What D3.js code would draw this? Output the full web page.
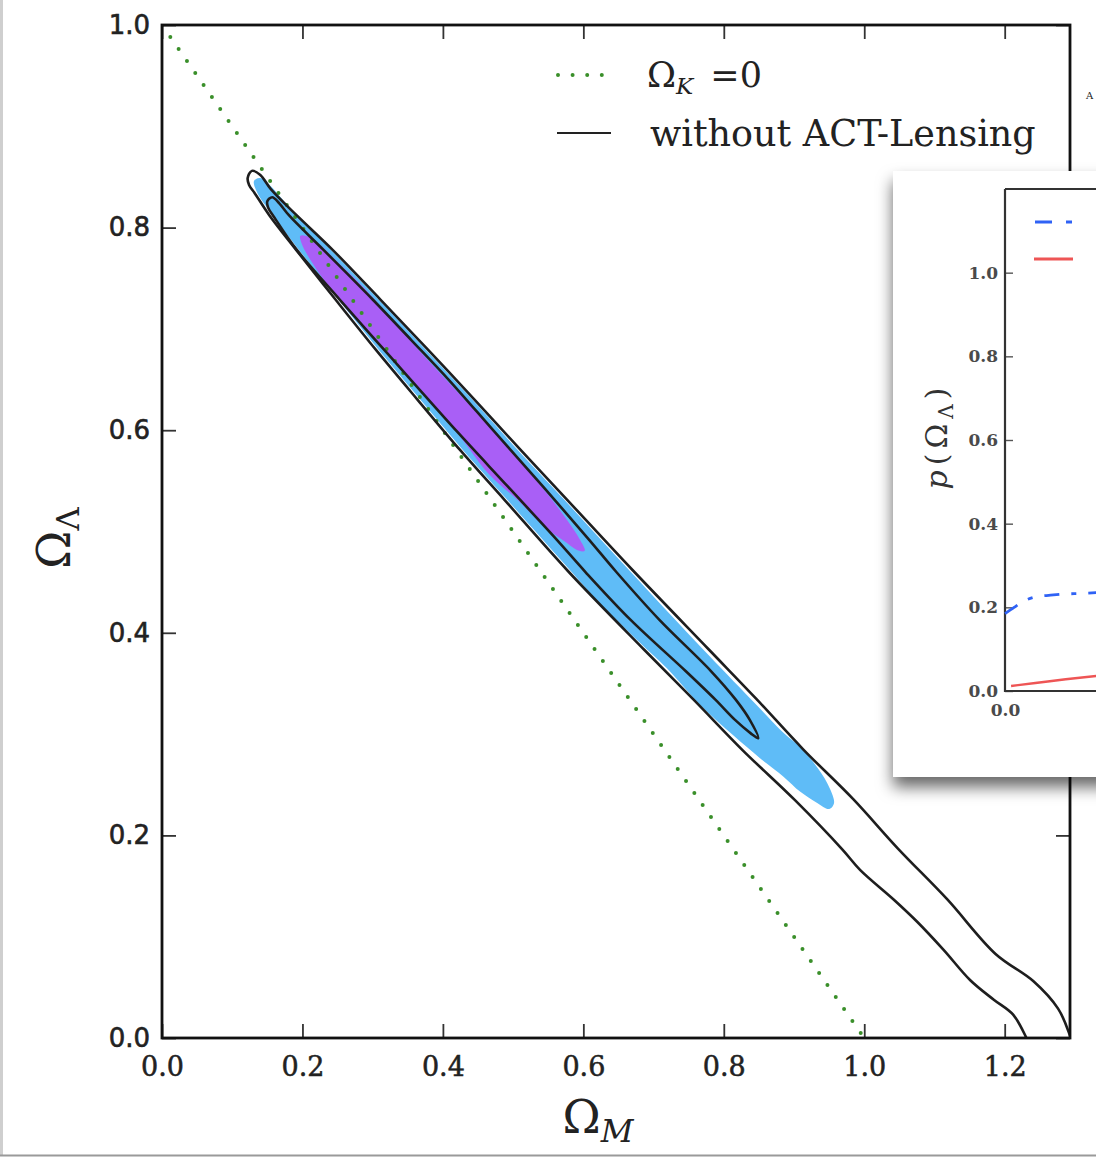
<!DOCTYPE html>
<html><head><meta charset="utf-8">
<script src="https://cdn.jsdelivr.net/npm/d3@7"></script>
<style>html,body{margin:0;padding:0;background:#fff;} svg{display:block}</style>
</head><body>
<svg id="c" width="1096" height="1158"></svg>
<script>
// ---------- data ----------
const xTicks = [0.0, 0.2, 0.4, 0.6, 0.8, 1.0, 1.2];
const yTicks = [0.0, 0.2, 0.4, 0.6, 0.8, 1.0];
const flatLine = [[0, 1], [1, 0]];            // Omega_K = 0

// 95% contour without ACT-Lensing (black, outer)
const outer95NoLens = [
  [0.122,0.849],[0.128,0.856],[0.140,0.852],[0.155,0.838],[0.192,0.812],[0.243,0.778],[0.311,0.729],
  [0.378,0.680],[0.444,0.631],[0.510,0.581],[0.576,0.532],[0.670,0.462],[0.778,0.384],
  [0.846,0.335],[0.913,0.285],[0.984,0.236],[1.048,0.187],[1.118,0.137],[1.187,0.083],
  [1.241,0.056],[1.276,0.029],[1.291,0.006],[1.301,-0.022],
  [1.244,-0.022],[1.231,0.000],[1.212,0.023],[1.184,0.038],[1.151,0.057],[1.113,0.087],
  [1.075,0.115],[1.043,0.136],[0.994,0.166],[0.969,0.186],[0.901,0.235],[0.827,0.284],
  [0.757,0.334],[0.687,0.383],[0.578,0.461],[0.488,0.531],[0.425,0.580],[0.364,0.630],
  [0.305,0.679],[0.247,0.729],[0.191,0.778],[0.153,0.812],[0.132,0.834],[0.124,0.842]
];
// 68% contour without ACT-Lensing (black, inner)
const inner68NoLens = [
  [0.150,0.826],[0.157,0.830],[0.167,0.824],[0.181,0.812],[0.230,0.778],[0.300,0.729],[0.355,0.689],
  [0.408,0.650],[0.474,0.598],[0.543,0.544],[0.608,0.492],[0.647,0.460],[0.708,0.413],
  [0.782,0.362],[0.817,0.334],[0.837,0.314],[0.849,0.296],
  [0.838,0.301],[0.816,0.314],[0.788,0.334],[0.746,0.362],[0.667,0.413],[0.603,0.460],
  [0.562,0.492],[0.493,0.544],[0.421,0.598],[0.354,0.650],[0.304,0.689],[0.253,0.729],
  [0.192,0.778],[0.160,0.810],[0.151,0.820]
];
// 95% with ACT-Lensing (blue fill)
const blue95Lens = [
  [0.131,0.846],[0.140,0.849],[0.188,0.815],[0.239,0.779],[0.307,0.730],[0.375,0.680],
  [0.441,0.631],[0.506,0.581],[0.572,0.532],[0.665,0.462],[0.770,0.384],[0.838,0.335],
  [0.887,0.300],[0.909,0.287],[0.930,0.270],[0.947,0.252],[0.957,0.232],
  [0.950,0.226],[0.933,0.232],[0.909,0.243],[0.885,0.258],[0.852,0.276],[0.813,0.299],
  [0.766,0.329],[0.719,0.365],[0.681,0.390],[0.622,0.430],[0.582,0.461],[0.492,0.531],
  [0.429,0.580],[0.368,0.630],[0.309,0.679],[0.251,0.729],[0.195,0.778],[0.158,0.812],
  [0.136,0.834]
];
// 68% with ACT-Lensing (purple fill)
const purple68Lens = [
  [0.197,0.792],[0.212,0.790],[0.256,0.762],[0.299,0.732],[0.349,0.692],[0.403,0.651],
  [0.463,0.606],[0.513,0.567],[0.549,0.537],[0.577,0.511],[0.595,0.492],[0.602,0.481],
  [0.594,0.481],[0.574,0.490],[0.544,0.505],[0.508,0.530],[0.465,0.557],[0.423,0.595],
  [0.356,0.650],[0.306,0.687],[0.254,0.727],[0.216,0.763],[0.199,0.784]
];
// inset
const insetYTicks = [0.0, 0.2, 0.4, 0.6, 0.8, 1.0];
const insetXTicks = [0.0];
const insetBlue = [[0.00,0.185],[0.03,0.200],[0.06,0.214],[0.10,0.225],[0.15,0.229],[0.20,0.232],[0.25,0.233],[0.30,0.235]];
const insetRed  = [[0.02,0.012],[0.10,0.019],[0.20,0.028],[0.30,0.036]];

// ---------- layout ----------
const svg = d3.select('#c');
const L = 162, R = 1070, T = 25, B = 1038;
const x = d3.scaleLinear().domain([0, 1.293]).range([L, R]);
const y = d3.scaleLinear().domain([0, 1]).range([B, T]);
const serif = "'DejaVu Serif', serif";
const sans = "'DejaVu Sans', sans-serif";

const defs = svg.append('defs');
defs.append('clipPath').attr('id','plotclip').append('rect')
  .attr('x', L).attr('y', T).attr('width', R - L).attr('height', B - T);
const f = defs.append('filter').attr('id','shadow').attr('x','-20%').attr('y','-20%').attr('width','140%').attr('height','140%');
f.append('feDropShadow').attr('dx',0).attr('dy',10).attr('stdDeviation',8).attr('flood-color','#000').attr('flood-opacity',0.6);

// screenshot borders
svg.append('line').attr('x1',1.5).attr('x2',1.5).attr('y1',0).attr('y2',1155).attr('stroke','#cfcfcf').attr('stroke-width',3);
svg.append('line').attr('x1',0).attr('x2',1096).attr('y1',1155.5).attr('y2',1155.5).attr('stroke','#9a9a9a').attr('stroke-width',2);

const plot = svg.append('g').attr('clip-path','url(#plotclip)');
const closed = d3.line().x(d => x(d[0])).y(d => y(d[1])).curve(d3.curveCatmullRomClosed.alpha(0.5));

plot.append('path').datum(blue95Lens).attr('d', closed).attr('fill','#5fbcf7').attr('stroke','none');
plot.append('path').datum(purple68Lens).attr('d', closed).attr('fill','#a95ff6').attr('stroke','none');

plot.append('path').datum(flatLine).attr('d', d3.line().x(d => x(d[0])).y(d => y(d[1])))
  .attr('fill','none').attr('stroke','#3a8f2a').attr('stroke-width',4)
  .attr('stroke-linecap','round').attr('stroke-dasharray','0 14.6');

plot.append('path').datum(outer95NoLens).attr('d', closed).attr('fill','none').attr('stroke','#1e1e1e').attr('stroke-width',2.6);
plot.append('path').datum(inner68NoLens).attr('d', closed).attr('fill','none').attr('stroke','#1e1e1e').attr('stroke-width',2.6);

// axes
const tk = 14;
const styleTicks = g => { g.select('.domain').remove(); g.selectAll('line').attr('stroke','#333').attr('stroke-width',1.8); };
const ax = svg.append('g');
ax.append('g').attr('transform',`translate(0,${B})`)
  .call(d3.axisBottom(x).tickValues(xTicks).tickSize(-tk).tickFormat(d3.format('.1f')).tickPadding(19))
  .call(styleTicks)
  .call(g => g.selectAll('text').attr('font-family',serif).attr('font-size',27).attr('fill','#222')
               .attr('stroke','#222').attr('stroke-width',0.5));
ax.append('g').attr('transform',`translate(0,${T})`)
  .call(d3.axisTop(x).tickValues(xTicks).tickSize(-tk).tickFormat(''))
  .call(styleTicks);
ax.append('g').attr('transform',`translate(${L},0)`)
  .call(d3.axisLeft(y).tickValues(yTicks).tickSize(-tk).tickFormat(d3.format('.1f')).tickPadding(12))
  .call(styleTicks)
  .call(g => g.selectAll('text').attr('font-family',sans).attr('font-size',26).attr('fill','#222')
               .attr('stroke','#222').attr('stroke-width',0.6));
ax.append('g').attr('transform',`translate(${R},0)`)
  .call(d3.axisRight(y).tickValues(yTicks).tickSize(-tk).tickFormat(''))
  .call(styleTicks);
svg.append('rect').attr('x',L).attr('y',T).attr('width',R-L).attr('height',B-T)
  .attr('fill','none').attr('stroke','#111').attr('stroke-width',2.8);

// axis labels
const xl = svg.append('text').attr('x', 598).attr('y', 1133).attr('text-anchor','middle').attr('font-family',serif).attr('fill','#222');
xl.append('tspan').attr('font-size',46).text('Ω');
xl.append('tspan').attr('font-size',32).attr('font-style','italic').attr('dy',9).text('M');
const yl = svg.append('text').attr('transform','translate(70,538) rotate(-90)').attr('text-anchor','middle').attr('font-family',serif).attr('fill','#222');
yl.append('tspan').attr('font-size',46).text('Ω');
yl.append('tspan').attr('font-size',32).attr('dy',9).text('Λ');

// legend
svg.append('line').attr('x1',558).attr('x2',605).attr('y1',75).attr('y2',75)
  .attr('stroke','#3a8f2a').attr('stroke-width',4).attr('stroke-linecap','round').attr('stroke-dasharray','0 14.6');
const lt1 = svg.append('text').attr('x',647).attr('y',87).attr('font-family',serif).attr('fill','#222');
lt1.append('tspan').attr('font-size',35).text('Ω');
lt1.append('tspan').attr('font-size',23).attr('font-style','italic').attr('dy',7).text('K');
lt1.append('tspan').attr('font-size',35).attr('dy',-7).attr('dx',6).text(' =0');
svg.append('line').attr('x1',557).attr('x2',611).attr('y1',133).attr('y2',133).attr('stroke','#222').attr('stroke-width',2);
svg.append('text').attr('x',650).attr('y',146).attr('font-family',serif).attr('font-size',36.5).attr('fill','#222').text('without ACT-Lensing');
svg.append('text').attr('x',1086).attr('y',99).attr('font-family',serif).attr('font-size',10).attr('fill','#222').text('A');

// ---------- inset ----------
const ins = svg.append('g');
ins.append('rect').attr('x',893).attr('y',171).attr('width',260).attr('height',606)
  .attr('fill','#fff').attr('filter','url(#shadow)');
const iL = 1005, iT = 189, iB = 691;
const ix = d3.scaleLinear().domain([0, 1.3]).range([iL, iL + 395]);
const iy = d3.scaleLinear().domain([0, 1.2]).range([iB, iT]);
ins.append('g').attr('transform',`translate(${iL},0)`)
  .call(d3.axisLeft(iy).tickValues(insetYTicks).tickSize(-8).tickFormat(d3.format('.1f')).tickPadding(7))
  .call(g => { g.select('.domain').remove(); g.selectAll('line').attr('stroke','#555').attr('stroke-width',1.4);
               g.selectAll('text').attr('font-family',serif).attr('font-size',17).attr('font-weight','bold').attr('fill','#4a4a4a'); });
ins.append('g').attr('transform',`translate(0,${iB})`)
  .call(d3.axisBottom(ix).tickValues(insetXTicks).tickSize(0).tickFormat(d3.format('.1f')).tickPadding(13))
  .call(g => { g.select('.domain').remove();
               g.selectAll('text').attr('font-family',serif).attr('font-size',17).attr('font-weight','bold').attr('fill','#4a4a4a'); });
ins.append('path').attr('d',`M${iL},${iT}V${iB}H1100M${iL},${iT}H1100`).attr('fill','none').attr('stroke','#333').attr('stroke-width',2.2);
const il = d3.line().x(d => ix(d[0])).y(d => iy(d[1])).curve(d3.curveMonotoneX);
ins.append('path').datum(insetBlue).attr('d', il).attr('fill','none').attr('stroke','#2f62f5')
  .attr('stroke-width',2.8).attr('stroke-dasharray','15 12 5 12');
ins.append('path').datum(insetRed).attr('d', il).attr('fill','none').attr('stroke','#ee5555').attr('stroke-width',2.4);
ins.append('line').attr('x1',1035).attr('x2',1073).attr('y1',222).attr('y2',222).attr('stroke','#2f62f5')
  .attr('stroke-width',3).attr('stroke-dasharray','17 14 6 10');
ins.append('line').attr('x1',1034).attr('x2',1073).attr('y1',259).attr('y2',259).attr('stroke','#ee5555').attr('stroke-width',3);
const pl = ins.append('text').attr('transform','translate(947,436) rotate(-90)').attr('text-anchor','middle')
  .attr('font-family',serif).attr('fill','#333').attr('letter-spacing',5);
pl.append('tspan').attr('font-size',30).attr('font-style','italic').text('p');
pl.append('tspan').attr('font-size',30).text('(Ω');
pl.append('tspan').attr('font-size',20).attr('dy',6).text('Λ');
pl.append('tspan').attr('font-size',30).attr('dy',-6).text(')');
</script>
</body></html>
